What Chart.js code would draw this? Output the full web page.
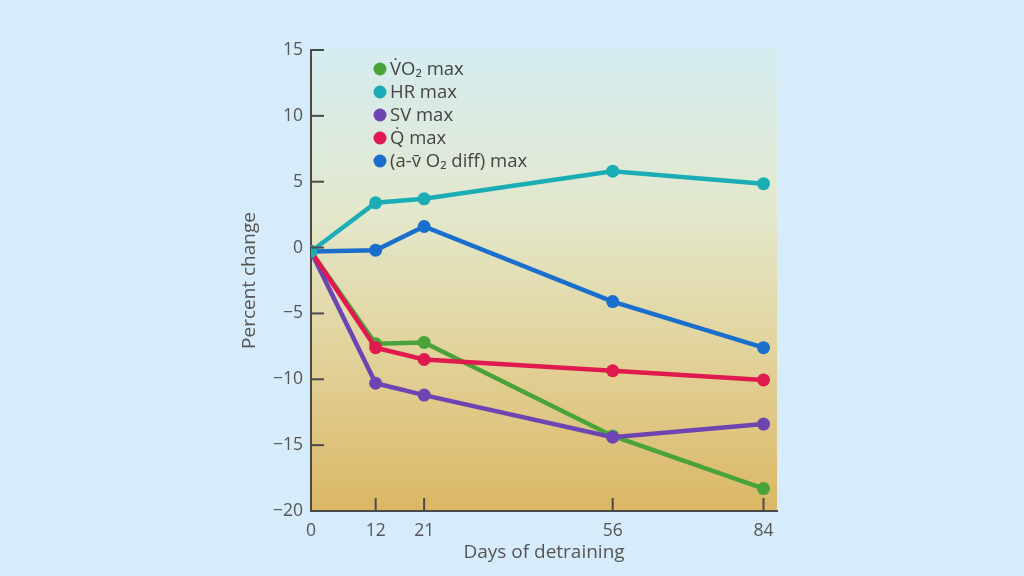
<!DOCTYPE html>
<html>
<head>
<meta charset="utf-8">
<script src="https://cdn.jsdelivr.net/npm/chart.js@4/dist/chart.umd.min.js"></script>
<style>
  html, body { margin: 0; padding: 0; background: #d6ecfa; }
  #wrap { width: 1024px; height: 576px; position: relative; }
</style>
</head>
<body>
<div id="wrap"><canvas id="c" width="1024" height="576"></canvas></div>
<script>
const days = [0, 12, 21, 56, 84];
const seriesLabels = ['V\u0307O\u2082 max', 'HR max', 'SV max', 'Q\u0307 max', '(a-v\u0304 O\u2082 diff) max'];
const vo2max = [-0.3, -7.3, -7.2, -14.3, -18.3];
const hrmax = [-0.3, 3.4, 3.7, 5.8, 4.85];
const svmax = [-0.3, -10.3, -11.2, -14.4, -13.4];
const qmax = [-0.3, -7.6, -8.5, -9.35, -10.05];
const avo2diff = [-0.3, -0.2, 1.6, -4.1, -7.6];
const xTickValues = [0, 12, 21, 56, 84];
const yTickValues = [15, 10, 5, 0, -5, -10, -15, -20];
const colors = ['#4aa33a', '#1badb5', '#6c45b3', '#e0194f', '#1b6fcc'];

const seriesData = [vo2max, hrmax, svmax, qmax, avo2diff];
const drawOrder = [4, 0, 3, 2, 1];

const FONT = '"Open Sans", "Liberation Sans", sans-serif';

const bgPlugin = {
  id: 'bg',
  beforeDraw(chart) {
    const {ctx, chartArea: a} = chart;
    const g = ctx.createLinearGradient(0, a.top, 0, a.bottom);
    g.addColorStop(0, '#d5ecf1');
    g.addColorStop(0.35, '#e3e8cc');
    g.addColorStop(0.65, '#e2d39c');
    g.addColorStop(1, '#dbb765');
    ctx.save();
    ctx.fillStyle = g;
    ctx.fillRect(a.left, a.top - 2, a.right - a.left, a.bottom - a.top + 2);
    ctx.restore();
  }
};

const tickPlugin = {
  id: 'innerTicks',
  afterDatasetsDraw(chart) {
    const {ctx, chartArea: a, scales} = chart;
    ctx.save();
    ctx.strokeStyle = '#4a4a4a';
    ctx.lineWidth = 2;
    yTickValues.forEach(v => {
      if (v === -20) return;
      const y = scales.y.getPixelForValue(v);
      ctx.beginPath(); ctx.moveTo(a.left, y); ctx.lineTo(a.left + 13, y); ctx.stroke();
    });
    xTickValues.forEach(v => {
      if (v === 0) return;
      const x = scales.x.getPixelForValue(v);
      ctx.beginPath(); ctx.moveTo(x, a.bottom); ctx.lineTo(x, a.bottom - 13); ctx.stroke();
    });
    ctx.restore();
  }
};

const legendPlugin = {
  id: 'innerLegend',
  afterDraw(chart) {
    const {ctx, chartArea: a} = chart;
    ctx.save();
    ctx.font = '18.5px ' + FONT;
    ctx.textBaseline = 'middle';
    chart.data.datasets.forEach((ds, i) => {
      const cx = a.left + 69;
      const cy = a.top + 19 + i * 23;
      ctx.fillStyle = ds.borderColor;
      ctx.beginPath(); ctx.arc(cx, cy, 6.5, 0, Math.PI * 2); ctx.fill();
      ctx.fillStyle = '#444';
      ctx.fillText(ds.label, cx + 10, cy + 1);
    });
    ctx.restore();
  }
};

new Chart(document.getElementById('c'), {
  type: 'line',
  data: {
    datasets: seriesLabels.map((label, i) => ({
      label,
      data: days.map((d, j) => ({x: d, y: seriesData[i][j]})),
      borderColor: colors[i],
      backgroundColor: colors[i],
      borderWidth: 4.5,
      pointRadius: 6.5,
      pointHoverRadius: 6.5,
      pointBorderWidth: 0,
      tension: 0,
      order: drawOrder[i]
    }))
  },
  options: {
    responsive: false,
    animation: false,
    layout: { padding: { left: 236, right: 247, top: 50, bottom: 10 } },
    plugins: { legend: { display: false }, tooltip: { enabled: false } },
    scales: {
      x: {
        type: 'linear',
        min: 0, max: 86.5,
        afterBuildTicks(s) { s.ticks = xTickValues.map(v => ({value: v})); },
        afterFit(s) { s.height = 55; },
        grid: { display: false, drawTicks: false },
        border: { display: true, color: '#4a4a4a', width: 2 },
        ticks: { color: '#555', font: { size: 17.5, family: FONT }, padding: 10, maxRotation: 0, autoSkip: false },
        title: { display: true, text: 'Days of detraining', color: '#555', font: { size: 19, family: FONT }, padding: { top: 0, bottom: 2 } }
      },
      y: {
        min: -20, max: 15,
        afterBuildTicks(s) { s.ticks = yTickValues.map(v => ({value: v})); },
        afterFit(s) { s.width = 75; },
        grid: { display: false, drawTicks: false },
        border: { display: true, color: '#4a4a4a', width: 2 },
        ticks: { color: '#555', font: { size: 17.5, family: FONT }, padding: 8,
          callback: v => String(v).replace('-', '\u2212') },
        title: { display: true, text: 'Percent change', color: '#555', font: { size: 19, family: FONT }, padding: { top: 2, bottom: 4 } }
      }
    }
  },
  plugins: [bgPlugin, tickPlugin, legendPlugin]
});
</script>
</body>
</html>
